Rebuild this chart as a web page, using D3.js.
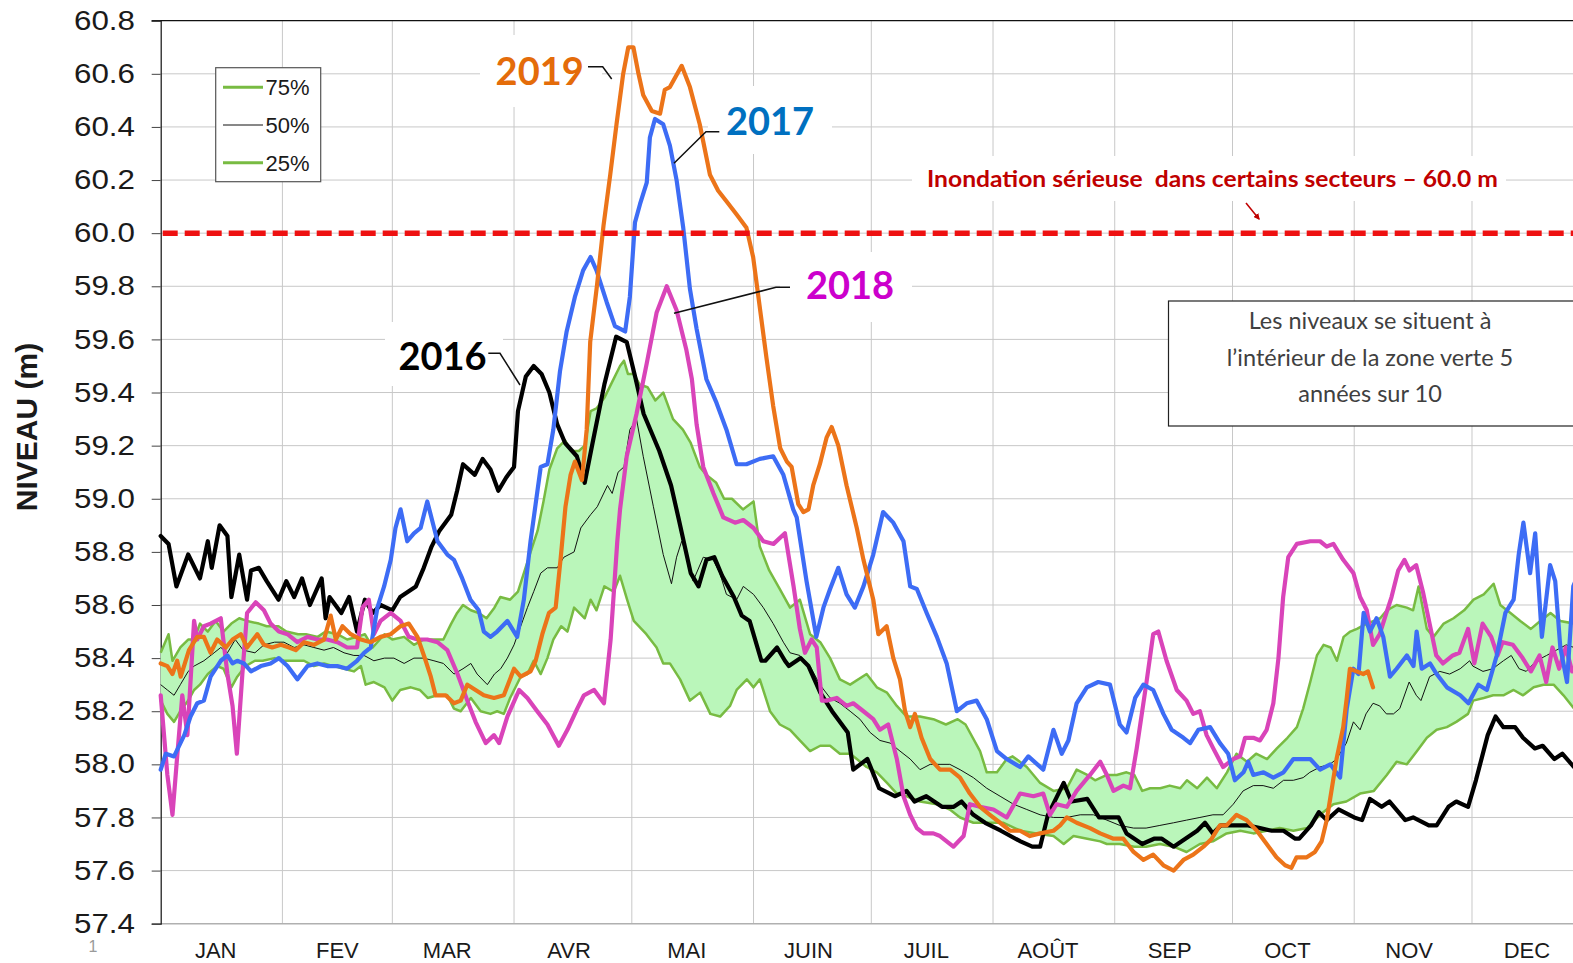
<!DOCTYPE html>
<html>
<head>
<meta charset="utf-8">
<script src="https://cdn.jsdelivr.net/npm/d3@7"></script>
<style>
  body { margin: 0; background: #fff; }
  svg { display: block; }
</style>
</head>
<body>
<svg id="chart" width="1573" height="963"></svg>
<script>
// months (label, first day of month)
const months = ["JAN", "FEV", "MAR", "AVR", "MAI", "JUIN", "JUIL", "AOÛT", "SEP", "OCT", "NOV", "DEC"];
const monthStart = [0, 31, 59, 90, 120, 151, 181, 212, 243, 273, 304, 334];
const yTicks = [57.4, 57.6, 57.8, 58.0, 58.2, 58.4, 58.6, 58.8, 59.0, 59.2, 59.4, 59.6, 59.8, 60.0, 60.2, 60.4, 60.6, 60.8];
const floodLevel = 60.0;

// [day of year, level (m)]
const p75 = [[0,58.42],[2,58.49],[3,58.39],[5,58.44],[7,58.47],[8.5,58.47],[10,58.53],[12,58.50],[14,58.54],[16,58.50],[18,58.53],[20,58.55],[22,58.54],[25,58.53],[27,58.52],[30,58.52],[32,58.50],[35,58.49],[37,58.49],[40,58.48],[42,58.50],[45,58.49],[47.5,58.47],[50,58.48],[52,58.49],[54,58.44],[57,58.49],[59,58.47],[62,58.48],[64.5,58.45],[67,58.47],[70,58.47],[72,58.47],[74,58.53],[75.5,58.57],[77,58.60],[79,58.58],[81,58.57],[83,58.55],[85,58.59],[86.5,58.63],[89,58.62],[91,58.65],[92.5,58.72],[94,58.79],[96,58.88],[97.5,58.99],[99,59.11],[101,59.19],[103,59.22],[104.5,59.18],[106.5,59.18],[108,59.20],[109.5,59.33],[111,59.34],[113,59.38],[115,59.44],[117,59.50],[118,59.52],[119,59.47],[120.5,59.47],[122,59.43],[124,59.42],[126,59.37],[128,59.40],[130.5,59.30],[133,59.26],[135,59.21],[137.3,59.12],[139,59.09],[141.5,59.06],[143.5,59.00],[145.5,59.00],[148.3,58.96],[151,58.99],[152.6,58.82],[155,58.73],[157.7,58.66],[160.3,58.59],[162.8,58.62],[165.4,58.49],[168,58.46],[170.5,58.40],[173,58.32],[175.6,58.30],[179.8,58.34],[182.4,58.29],[185,58.27],[187.5,58.22],[190,58.18],[193.4,58.18],[196.8,58.17],[200,58.15],[203,58.17],[205,58.15],[208.7,58.05],[210.4,57.97],[213,57.97],[215.5,58.02],[217,58.03],[220.6,57.99],[224,57.93],[227.4,57.90],[230.8,57.91],[233.3,57.98],[236,57.96],[238,57.94],[241,57.96],[243.5,57.96],[246,57.97],[248,57.96],[250,57.90],[252,57.91],[254.6,57.91],[257,57.92],[259.7,57.91],[261.4,57.94],[264,57.91],[266.5,57.95],[269,57.91],[271.6,57.97],[274,58.04],[276.7,58.01],[279,58.04],[281.8,58.02],[284.3,58.06],[287,58.10],[289.4,58.14],[291,58.21],[292.8,58.31],[294.5,58.41],[296.2,58.45],[298,58.44],[299.6,58.39],[301.3,58.48],[303,58.50],[304.7,58.51],[307.2,58.53],[309,58.54],[310.6,58.55],[312.3,58.58],[314.8,58.60],[317.4,58.59],[319,58.58],[320.4,58.67],[322.5,58.51],[324.2,58.48],[326.8,58.53],[329.3,58.55],[332,58.58],[334.4,58.62],[337,58.64],[339.5,58.68],[341.2,58.60],[343.8,58.57],[346.3,58.54],[349,58.51],[351.4,58.54],[354,58.57],[356.5,58.54],[360,58.53],[365,58.52]];

const p50 = [[0,58.30],[1.7,58.28],[3.4,58.26],[5,58.30],[7,58.35],[8.5,58.37],[11,58.39],[13.6,58.42],[15.3,58.44],[17,58.42],[19,58.47],[21,58.43],[24,58.42],[26.3,58.45],[29,58.46],[31.4,58.46],[34,58.44],[36.5,58.45],[39,58.44],[41.6,58.43],[44,58.44],[46.7,58.42],[49.2,58.41],[51.8,58.41],[54.3,58.39],[57,58.40],[59.4,58.40],[62,58.38],[64.5,58.40],[67,58.40],[69.6,58.39],[72,58.38],[74.7,58.34],[77,58.36],[79,58.38],[80.6,58.34],[83.2,58.30],[85,58.34],[86.6,58.36],[88.3,58.40],[90,58.45],[91.7,58.52],[93.4,58.59],[95,58.65],[96.8,58.72],[98.5,58.74],[101,58.74],[102.7,58.78],[105.3,58.80],[107,58.89],[109.5,58.94],[111.2,58.97],[113.8,59.05],[115,59.02],[116.5,59.10],[118,59.12],[119.5,59.26],[121.2,59.30],[122.9,59.16],[125.5,58.97],[128,58.79],[130.1,58.68],[131.4,58.78],[132.7,58.84],[134,58.79],[135.6,58.69],[138.2,58.78],[140.7,58.77],[142.4,58.72],[144.1,58.64],[146.7,58.62],[148.4,58.67],[151,58.64],[153.5,58.59],[156,58.53],[158.6,58.46],[160.3,58.42],[162.8,58.41],[165.4,58.37],[167.9,58.30],[170.5,58.25],[173,58.23],[175.6,58.20],[178.1,58.17],[180.7,58.12],[183.2,58.09],[185.8,58.08],[188.3,58.05],[190.9,58.02],[193.4,57.98],[196,58.00],[198.5,58.00],[201,58.00],[203.6,57.98],[207,57.95],[210.4,57.91],[213.8,57.88],[217.2,57.85],[220.6,57.83],[224,57.81],[227.4,57.80],[230.8,57.80],[234.2,57.81],[237.6,57.81],[241,57.79],[244.3,57.77],[247.8,57.76],[251,57.76],[254.5,57.77],[258,57.78],[261.3,57.79],[264.7,57.80],[268,57.81],[270.6,57.81],[273.2,57.85],[275.7,57.90],[278.3,57.92],[280.8,57.92],[283.4,57.91],[286,57.94],[288.5,57.94],[291,57.95],[292.7,57.97],[295.3,57.99],[297.8,58.00],[299.5,58.02],[302,58.08],[303.8,58.16],[305.5,58.13],[307,58.19],[308.8,58.23],[310.5,58.22],[312.2,58.19],[314,58.19],[315.6,58.21],[318,58.31],[319.8,58.26],[321,58.24],[323.2,58.33],[325.8,58.35],[328.3,58.34],[331,58.36],[333.4,58.39],[334.2,58.37],[336.8,58.35],[339.3,58.36],[342,58.39],[344,58.41],[346,58.36],[347.8,58.35],[350.4,58.39],[353,58.41],[355.5,58.43],[358,58.45],[360,58.44],[365,58.43]];

const p25 = [[0,58.24],[1.7,58.19],[3.4,58.16],[5,58.20],[7,58.24],[8.5,58.28],[10,58.30],[12,58.34],[14.4,58.37],[16,58.36],[18,58.29],[19.5,58.33],[21.6,58.37],[24,58.39],[26,58.39],[29,58.40],[31.4,58.39],[34,58.39],[36.5,58.39],[39,58.37],[41.6,58.38],[44,58.37],[46.7,58.36],[49.2,58.35],[51,58.37],[52.2,58.30],[54.3,58.31],[57,58.29],[59,58.24],[61,58.28],[63.7,58.29],[66,58.28],[68,58.25],[70.5,58.26],[73,58.26],[74.7,58.21],[76.4,58.20],[79,58.25],[81.5,58.20],[84,58.19],[85.7,58.20],[87.4,58.19],[89,58.25],[91.7,58.33],[93.4,58.34],[95,58.39],[96.8,58.34],[98.5,58.40],[100,58.47],[102,58.52],[103.6,58.50],[105.3,58.59],[108,58.55],[109.5,58.62],[111,58.58],[113,58.67],[115.4,58.65],[117,58.71],[118.8,58.62],[120.5,58.54],[123.7,58.49],[126.3,58.44],[128,58.38],[129.7,58.38],[132.3,58.32],[134.8,58.24],[137.4,58.27],[140,58.19],[142.5,58.18],[145,58.22],[146.7,58.28],[149.3,58.32],[151,58.29],[152.6,58.32],[155.2,58.20],[157.7,58.15],[160.3,58.13],[162.8,58.09],[165.4,58.05],[168,58.07],[170.5,58.07],[173,58.04],[175.6,58.04],[177.3,58.02],[179.8,57.99],[182.4,57.97],[185,57.93],[187.5,57.89],[190,57.88],[193.4,57.86],[197.7,57.85],[201,57.83],[203.6,57.80],[207,57.78],[210.4,57.78],[214.7,57.78],[219,57.75],[223,57.74],[227.4,57.73],[230,57.70],[232.5,57.73],[236,57.72],[239.3,57.71],[241,57.70],[244.3,57.70],[248,57.69],[251,57.69],[254.5,57.70],[258,57.69],[261.3,57.67],[264.7,57.70],[268,57.71],[271.5,57.74],[275,57.75],[278.3,57.74],[281.7,57.75],[285,57.76],[288.5,57.75],[292,57.76],[295.3,57.81],[298.7,57.85],[302,57.86],[305.5,57.89],[309,57.90],[312.3,57.96],[314.8,58.01],[317.4,58.00],[320,58.05],[322.5,58.10],[325,58.13],[327.6,58.14],[330,58.16],[333,58.19],[334.3,58.24],[337,58.25],[339.4,58.26],[342,58.26],[344.6,58.28],[347,58.26],[349.7,58.29],[352.2,58.30],[354.8,58.30],[357.3,58.26],[360,58.21],[365,58.20]];

const y2016 = [[0,58.86],[2,58.83],[4,58.67],[7,58.79],[10,58.70],[12,58.84],[13,58.74],[15,58.90],[17,58.86],[18,58.63],[20,58.79],[22,58.62],[23,58.73],[25,58.74],[27,58.69],[30,58.62],[32,58.69],[34,58.63],[36,58.70],[38,58.60],[41,58.70],[42,58.55],[43,58.63],[46,58.57],[48,58.63],[50,58.50],[52,58.62],[54,58.57],[56,58.60],[59,58.58],[61,58.63],[63,58.65],[65,58.67],[67,58.74],[69,58.82],[71,58.88],[74,58.94],[75.5,59.03],[77,59.13],[80,59.09],[82,59.15],[84,59.11],[86,59.03],[88,59.08],[90,59.12],[91,59.33],[93,59.46],[95,59.50],[97,59.47],[99,59.40],[101,59.28],[103,59.21],[106,59.16],[108,59.06],[110,59.21],[113,59.43],[116,59.61],[118.7,59.59],[121,59.45],[123,59.32],[127,59.18],[130,59.05],[132,58.92],[135,58.72],[137,58.67],[139,58.77],[141,58.78],[143,58.71],[146,58.63],[148,58.56],[150,58.54],[153,58.39],[154,58.39],[157,58.44],[159,58.39],[160,58.37],[163,58.40],[165,58.37],[168,58.27],[171,58.20],[175,58.12],[176.4,57.98],[180,58.02],[183,57.91],[187,57.88],[190,57.90],[192,57.86],[195,57.88],[199,57.84],[202,57.84],[204,57.86],[207,57.81],[210,57.78],[214,57.75],[219,57.71],[222,57.69],[224,57.69],[226,57.81],[230,57.93],[232,57.86],[236,57.87],[239,57.80],[241,57.80],[244,57.80],[246,57.74],[250,57.70],[253,57.72],[255,57.72],[258,57.69],[261,57.72],[264,57.75],[266,57.78],[268,57.74],[270,57.77],[273,57.77],[277,57.77],[280,57.76],[283,57.75],[286,57.75],[289,57.72],[290,57.72],[293,57.77],[295,57.82],[297,57.79],[300,57.83],[304,57.80],[306,57.79],[308,57.87],[311,57.84],[313,57.86],[317,57.79],[319,57.80],[323,57.77],[325,57.77],[328,57.84],[330,57.86],[333,57.84],[335,57.94],[338,58.11],[340,58.18],[342,58.14],[345,58.14],[347,58.10],[350,58.06],[352,58.07],[355,58.02],[357,58.04],[360,57.99],[365,57.97]];

const y2017 = [[0,57.98],[1.3,58.04],[3.4,58.03],[6,58.11],[7.6,58.18],[9.3,58.23],[11,58.24],[12.7,58.33],[15.3,58.39],[17,58.41],[18.3,58.38],[19.5,58.39],[21.2,58.38],[23,58.35],[25.5,58.37],[28,58.38],[30.1,58.40],[32.3,58.37],[34.8,58.32],[37.4,58.37],[39.9,58.38],[42.4,58.37],[45,58.37],[47.5,58.36],[50,58.39],[51.8,58.42],[53.5,58.44],[55.2,58.59],[56.9,58.67],[58.6,58.77],[59.8,58.89],[61.1,58.96],[62.8,58.84],[64.5,58.87],[66.2,58.89],[67.9,58.99],[70.5,58.84],[73,58.79],[74.7,58.77],[76.8,58.70],[78.9,58.62],[81,58.58],[82.3,58.50],[84,58.48],[85.7,58.50],[88.3,58.54],[90.8,58.48],[92.5,58.62],[94.2,58.84],[95.5,58.98],[96.8,59.12],[98.5,59.13],[100,59.26],[101.7,59.48],[103.4,59.63],[105.5,59.76],[107.6,59.86],[109.5,59.91],[111,59.86],[113.6,59.74],[115.7,59.65],[118.3,59.63],[119.5,59.76],[120.8,60.04],[122.1,60.11],[123.8,60.19],[124.6,60.36],[125.9,60.43],[128,60.41],[129.7,60.33],[131.4,60.20],[133.1,60.02],[134.8,59.79],[136.5,59.64],[139,59.45],[141.6,59.36],[144.1,59.26],[146.7,59.13],[149.2,59.13],[152.6,59.15],[156,59.16],[158.6,59.09],[161.1,58.96],[162,58.93],[164.5,58.69],[167,58.48],[168.8,58.59],[170.5,58.66],[172.6,58.74],[174.7,58.64],[176.8,58.59],[179,58.67],[181.5,58.79],[184,58.95],[186.6,58.91],[189.2,58.84],[190.9,58.67],[192.6,58.66],[195.1,58.57],[197.7,58.48],[200.2,58.38],[202.8,58.20],[205.3,58.23],[207.8,58.24],[210.4,58.17],[213,58.05],[215.5,58.02],[218.9,57.99],[221,58.03],[224.8,57.98],[227.4,58.13],[229.5,58.04],[231.2,58.09],[233.3,58.23],[235.9,58.29],[238.8,58.31],[241.8,58.30],[244.3,58.15],[246,58.12],[248.2,58.25],[250.3,58.30],[252.8,58.28],[255.4,58.19],[257.5,58.13],[260.5,58.10],[262.2,58.08],[264.3,58.13],[267.3,58.14],[269.8,58.08],[271.9,58.04],[273.6,57.94],[275.8,57.97],[277,58.01],[278.3,57.96],[280.9,57.97],[283.4,57.95],[286,57.97],[288.5,58.02],[291.1,58.02],[292.8,58.02],[295.3,57.98],[297.9,58.00],[300.4,57.95],[302.1,58.21],[303.8,58.36],[305.1,58.34],[306.4,58.57],[308,58.50],[309.7,58.55],[311.4,58.48],[313.1,58.33],[314.8,58.36],[317.4,58.41],[319.1,58.37],[319.9,58.50],[321.2,58.36],[323.3,58.38],[325,58.34],[327.6,58.29],[331,58.26],[333.1,58.23],[335.6,58.30],[337.8,58.28],[340.3,58.41],[342.5,58.57],[344.6,58.62],[345.9,58.79],[347.1,58.91],[348.8,58.72],[350.1,58.87],[351.8,58.48],[353.9,58.75],[355.2,58.69],[356.5,58.44],[358.2,58.31],[359.8,58.67],[362,58.75]];

const y2018 = [[0,58.26],[1.7,57.96],[3,57.81],[4.2,58.03],[5.5,58.26],[6.8,58.11],[8.5,58.54],[9.3,58.47],[11,58.52],[12.7,58.53],[15.3,58.55],[17,58.34],[18.3,58.22],[19.4,58.04],[20.8,58.34],[22,58.57],[24.2,58.61],[26.3,58.58],[28,58.53],[30.1,58.50],[32.3,58.49],[34.8,58.46],[37.4,58.48],[39.9,58.47],[42.4,58.47],[45,58.46],[47.5,58.44],[50,58.44],[51.4,58.59],[53,58.62],[54.3,58.49],[56,58.54],[58.6,58.57],[61.1,58.54],[63.2,58.48],[65.4,58.47],[67.9,58.47],[70.5,58.46],[73,58.43],[75.6,58.34],[78.1,58.24],[80.2,58.16],[82.8,58.08],[84.9,58.11],[86.2,58.08],[88.3,58.18],[91.3,58.28],[93.4,58.25],[95.9,58.20],[98.5,58.15],[101.4,58.07],[103.6,58.13],[106.1,58.21],[107.8,58.26],[110.4,58.28],[112.9,58.23],[114.6,58.47],[116.3,58.84],[117,58.96],[118.7,59.16],[121.2,59.32],[123.8,59.51],[126.3,59.70],[128.9,59.80],[131.4,59.71],[133.9,59.56],[135.3,59.45],[136.5,59.28],[138.2,59.12],[140.8,59.02],[143.3,58.93],[146.3,58.91],[148.4,58.92],[151,58.89],[153.5,58.84],[156.1,58.83],[159,58.87],[161.2,58.67],[162.8,58.51],[164.1,58.42],[165.8,58.47],[167.1,58.44],[168.4,58.24],[169.6,58.24],[172.2,58.25],[174.7,58.22],[176.4,58.23],[179,58.20],[181.5,58.17],[183.2,58.13],[185.3,58.15],[187.5,58.02],[189.2,57.88],[190.9,57.81],[192.6,57.76],[194.3,57.74],[196.8,57.74],[198.5,57.73],[201.9,57.69],[204.5,57.73],[206.1,57.85],[208.7,57.84],[212.1,57.83],[215.5,57.80],[218.9,57.89],[222.3,57.88],[224.8,57.89],[226.5,57.81],[228.2,57.85],[230.8,57.84],[233.3,57.90],[236.7,57.96],[239.3,58.01],[241,57.96],[242.7,57.90],[245.2,57.92],[246.9,57.91],[248.6,58.06],[251.1,58.31],[252.8,58.49],[254.1,58.50],[256.2,58.39],[258.8,58.28],[261.3,58.24],[263,58.19],[264.7,58.20],[266.4,58.11],[268.1,58.06],[270.6,57.99],[273.2,58.02],[274.9,58.03],[276.2,58.10],[278.3,58.10],[280,58.09],[281.7,58.13],[283.4,58.23],[284.7,58.40],[285.9,58.63],[287.2,58.78],[289.4,58.83],[292.8,58.84],[295.3,58.84],[297,58.82],[298.7,58.83],[301.2,58.77],[303.8,58.72],[305.5,58.63],[307.2,58.58],[308.8,58.45],[310.5,58.49],[312.2,58.57],[313.5,58.63],[315.2,58.73],[316.8,58.77],[318.1,58.73],[319.8,58.75],[321.5,58.65],[323.2,58.53],[324.9,58.41],[326.6,58.38],[329.1,58.41],[330.8,58.42],[333,58.51],[334.6,58.38],[336.7,58.53],[338.9,58.48],[340.5,58.41],[341.8,58.46],[344.4,58.45],[346.9,58.40],[349,58.35],[351.2,58.41],[352.9,58.31],[354.5,58.44],[356.2,58.36],[357.9,58.44],[359.5,58.35],[362,58.40]];

const y2019 = [[0,58.38],[1.7,58.37],[3,58.34],[4.2,58.39],[5.1,58.33],[7.2,58.43],[9.3,58.48],[11,58.48],[12.7,58.42],[14.4,58.47],[16.6,58.44],[18.3,58.47],[20.4,58.49],[22,58.44],[24.6,58.49],[26.3,58.45],[28.4,58.44],[30.6,58.45],[32.7,58.44],[34.4,58.43],[36.5,58.46],[39,58.45],[41.6,58.47],[43.3,58.56],[44.6,58.47],[46.3,58.52],[48.4,58.49],[51,58.47],[53.5,58.46],[56,58.48],[58.6,58.49],[61.1,58.52],[63.2,58.53],[65.4,58.48],[67.5,58.39],[68.8,58.33],[70,58.26],[72.6,58.26],[74.7,58.23],[76.4,58.24],[78.1,58.30],[80.2,58.28],[82.3,58.26],[84.9,58.25],[87.4,58.26],[90,58.36],[91.7,58.33],[94.2,58.35],[95.5,58.39],[97.2,58.49],[98.9,58.57],[100.6,58.59],[101.9,58.78],[103.1,58.97],[104.4,59.09],[105.5,59.14],[107.3,59.07],[108.5,59.26],[109.4,59.59],[111.1,59.80],[112.8,60.03],[114.5,60.22],[116.1,60.41],[117.8,60.60],[119.1,60.70],[120.4,60.70],[121.7,60.60],[122.9,60.52],[125.1,60.46],[127.2,60.45],[128.4,60.54],[129.7,60.55],[132.7,60.63],[134.8,60.55],[137.3,60.41],[139.9,60.22],[142,60.16],[144.1,60.12],[146.7,60.07],[149.2,60.02],[150.9,59.91],[152.6,59.72],[154.3,59.53],[156,59.35],[157.8,59.19],[159.5,59.14],[160.7,59.12],[162.4,58.98],[163.7,58.95],[165,58.96],[166.2,59.05],[167.9,59.13],[169.6,59.23],[170.9,59.27],[172.6,59.20],[174.7,59.05],[177.3,58.89],[179,58.77],[181.5,58.62],[182.8,58.49],[184.9,58.52],[186.6,58.40],[188.3,58.32],[189.6,58.20],[190.9,58.14],[192.1,58.19],[193.8,58.10],[196,58.02],[198.5,57.98],[201.1,57.98],[203.6,57.95],[206.1,57.89],[208.7,57.84],[211.2,57.81],[213.8,57.78],[216.3,57.75],[218.9,57.75],[221.4,57.73],[224,57.74],[227.4,57.75],[229.1,57.77],[230.8,57.80],[233.3,57.78],[236.7,57.76],[239.3,57.74],[242.7,57.72],[245.2,57.72],[247.8,57.67],[250.3,57.64],[252.8,57.66],[255.4,57.62],[258,57.60],[260.5,57.64],[263,57.66],[265.6,57.69],[267.7,57.72],[269.8,57.77],[271.5,57.77],[274,57.81],[276.6,57.79],[279.2,57.75],[281.7,57.70],[284.2,57.65],[286.4,57.62],[288,57.61],[289.3,57.65],[291.9,57.65],[294,57.67],[295.7,57.71],[297,57.79],[298.2,57.90],[299.5,58.02],[301.2,58.14],[302.1,58.25],[302.9,58.36],[304.6,58.35],[306.3,58.34],[307.5,58.35],[308.8,58.29]];

const W = 1573, H = 963;
const svg = d3.select("#chart");
svg.append("rect").attr("width", W).attr("height", H).attr("fill", "#fff");

const x = d3.scaleLinear().domain([0, 365]).range([160.7, 1593.7]);
const y = d3.scaleLinear().domain([57.4, 60.8]).range([923.7, 20.7]);

const gridColor = "#c8c8c8";
const green = "#78bb42";

// grid
svg.append("g").selectAll("line")
    .data(yTicks.slice(1, -1))
    .join("line")
    .attr("x1", x(0)).attr("x2", W)
    .attr("y1", d => y(d)).attr("y2", d => y(d))
    .attr("stroke", gridColor).attr("stroke-width", 1);

svg.append("g").selectAll("line")
    .data(monthStart.slice(1))
    .join("line")
    .attr("x1", d => x(d)).attr("x2", d => x(d))
    .attr("y1", y(60.8)).attr("y2", y(57.4))
    .attr("stroke", gridColor).attr("stroke-width", 1);

// white backgrounds of the text boxes (they hide the grid)
const boxes = [[480, 35, 122, 72], [708, 86, 124, 68], [780, 252, 132, 70], [385, 322, 118, 64], [912, 156, 594, 45]];
svg.append("g").selectAll("rect")
    .data(boxes)
    .join("rect")
    .attr("x", d => d[0]).attr("y", d => d[1])
    .attr("width", d => d[2]).attr("height", d => d[3])
    .attr("fill", "#fff");

// axes frame
svg.append("line").attr("x1", x(0)).attr("x2", W).attr("y1", y(57.4)).attr("y2", y(57.4))
    .attr("stroke", "#b0b0b0").attr("stroke-width", 1.5);
svg.append("line").attr("x1", 151.7).attr("x2", W).attr("y1", y(60.8)).attr("y2", y(60.8))
    .attr("stroke", "#111").attr("stroke-width", 1.2);

const yAxis = svg.append("g")
    .attr("transform", `translate(${x(0)},0)`)
    .call(d3.axisLeft(y).tickValues(yTicks).tickFormat(d3.format(".1f")).tickSize(9).tickPadding(16.7));
yAxis.select(".domain").attr("stroke", "#111").attr("stroke-width", 1.2);
yAxis.selectAll(".tick line").attr("stroke", "#444");
yAxis.selectAll(".tick text")
    .attr("font-family", "Liberation Sans, Arial, sans-serif")
    .attr("font-size", 27).attr("fill", "#1a1a1a")
    .attr("textLength", 61).attr("lengthAdjust", "spacingAndGlyphs");

svg.append("text")
    .attr("transform", "translate(37,427) rotate(-90)")
    .attr("text-anchor", "middle")
    .attr("font-family", "Liberation Sans, Arial, sans-serif")
    .attr("font-weight", "bold").attr("font-size", 30).attr("fill", "#1a1a1a")
    .text("NIVEAU (m)");

svg.append("g").selectAll("text")
    .data(months)
    .join("text")
    .attr("x", (d, i) => x(monthStart[i] + 14))
    .attr("y", 957.5)
    .attr("text-anchor", "middle")
    .attr("font-family", "Liberation Sans, Arial, sans-serif")
    .attr("font-size", 22).attr("fill", "#1a1a1a")
    .text(d => d);

// slide number
svg.append("text").attr("x", 93).attr("y", 952).attr("text-anchor", "middle")
    .attr("font-family", "Liberation Sans, Arial, sans-serif").attr("font-size", 16)
    .attr("fill", "#9a9a9a").text("1");

// green zone
const line = d3.line().x(d => x(d[0])).y(d => y(d[1]));
svg.append("path")
    .attr("d", line(p75.concat(p25.slice().reverse())) + "Z")
    .attr("fill", "#baf6ba");
[p75, p25].forEach(s => {
  svg.append("path").attr("d", line(s)).attr("fill", "none")
      .attr("stroke", green).attr("stroke-width", 2.5).attr("stroke-linejoin", "round");
});
svg.append("path").attr("d", line(p50)).attr("fill", "none")
    .attr("stroke", "#111").attr("stroke-width", 1);

// years
const years = [
  { data: y2016, color: "#000000" },
  { data: y2018, color: "#d944b9" },
  { data: y2017, color: "#3d6cf5" },
  { data: y2019, color: "#ec7419" }
];
years.forEach(s => {
  svg.append("path").attr("d", line(s.data)).attr("fill", "none")
      .attr("stroke", s.color).attr("stroke-width", 4.2)
      .attr("stroke-linejoin", "round").attr("stroke-linecap", "round");
});

// flood level
svg.append("line")
    .attr("x1", x(0) + 2).attr("x2", W)
    .attr("y1", y(floodLevel)).attr("y2", y(floodLevel))
    .attr("stroke", "#ee1111").attr("stroke-width", 5.5)
    .attr("stroke-dasharray", "15,7");

// year labels + leaders
const labels = [
  { t: "2019", c: "#e46c0a", x: 539.7, y: 85, lead: [[588, 66.7], [602.7, 66.7], [611.7, 79]] },
  { t: "2017", c: "#0070c0", x: 770, y: 135, lead: [[719.3, 131.7], [706, 131.7], [674, 163.3]] },
  { t: "2018", c: "#cc00cc", x: 850, y: 299.3, lead: [[790, 287.3], [776, 287.3], [674, 313.3]] },
  { t: "2016", c: "#000000", x: 442.5, y: 370, lead: [[488.3, 353.3], [500, 353.3], [520, 385]] }
];
labels.forEach(l => {
  svg.append("path").attr("d", d3.line()(l.lead)).attr("fill", "none")
      .attr("stroke", "#111").attr("stroke-width", 1.5);
  svg.append("text").attr("x", l.x).attr("y", l.y).attr("text-anchor", "middle")
      .attr("font-family", "Lato, 'Open Sans', sans-serif").attr("font-weight", "bold")
      .attr("font-size", 38).attr("fill", l.c).text(l.t);
});

// flood annotation
svg.append("text").attr("x", 927).attr("y", 186.5)
    .attr("font-family", "Lato, 'Open Sans', sans-serif").attr("font-weight", "bold")
    .attr("font-size", 22).attr("fill", "#c00000")
    .attr("textLength", 571).attr("lengthAdjust", "spacingAndGlyphs")
    .style("white-space", "pre")
    .text("Inondation sérieuse  dans certains secteurs – 60.0 m");

svg.append("defs").append("marker")
    .attr("id", "arrow").attr("viewBox", "0 0 10 10").attr("refX", 8).attr("refY", 5)
    .attr("markerWidth", 4).attr("markerHeight", 4).attr("orient", "auto")
    .append("path").attr("d", "M0,0L10,5L0,10Z").attr("fill", "#c00000");
svg.append("line").attr("x1", 1246).attr("y1", 203).attr("x2", 1259).attr("y2", 219)
    .attr("stroke", "#c00000").attr("stroke-width", 1.6).attr("marker-end", "url(#arrow)");

// note box
svg.append("rect").attr("x", 1168.5).attr("y", 301).attr("width", 420).attr("height", 125)
    .attr("fill", "#fff").attr("stroke", "#222").attr("stroke-width", 1.2);
const note = ["Les niveaux se situent à", "l’intérieur de la zone verte 5", "années sur 10"];
svg.append("g").selectAll("text")
    .data(note)
    .join("text")
    .attr("x", 1370).attr("y", (d, i) => 329 + i * 36.5)
    .attr("text-anchor", "middle")
    .attr("font-family", "Lato, 'Open Sans', sans-serif")
    .attr("font-size", 23.5).attr("fill", "#404040")
    .text(d => d);

// legend
const legendItems = [
  { t: "75%", c: green, w: 3 },
  { t: "50%", c: "#111", w: 1 },
  { t: "25%", c: green, w: 3 }
];
const lg = svg.append("g");
lg.append("rect").attr("x", 215.7).attr("y", 67.7).attr("width", 105).attr("height", 114)
    .attr("fill", "#fff").attr("stroke", "#555").attr("stroke-width", 1.2);
legendItems.forEach((d, i) => {
  const cy = 87.3 + i * 37.7;
  lg.append("line").attr("x1", 223).attr("x2", 263).attr("y1", cy).attr("y2", cy)
      .attr("stroke", d.c).attr("stroke-width", d.w);
  lg.append("text").attr("x", 265.5).attr("y", cy + 8)
      .attr("font-family", "Liberation Sans, Arial, sans-serif")
      .attr("font-size", 22).attr("fill", "#1a1a1a").text(d.t);
});
</script>
</body>
</html>
